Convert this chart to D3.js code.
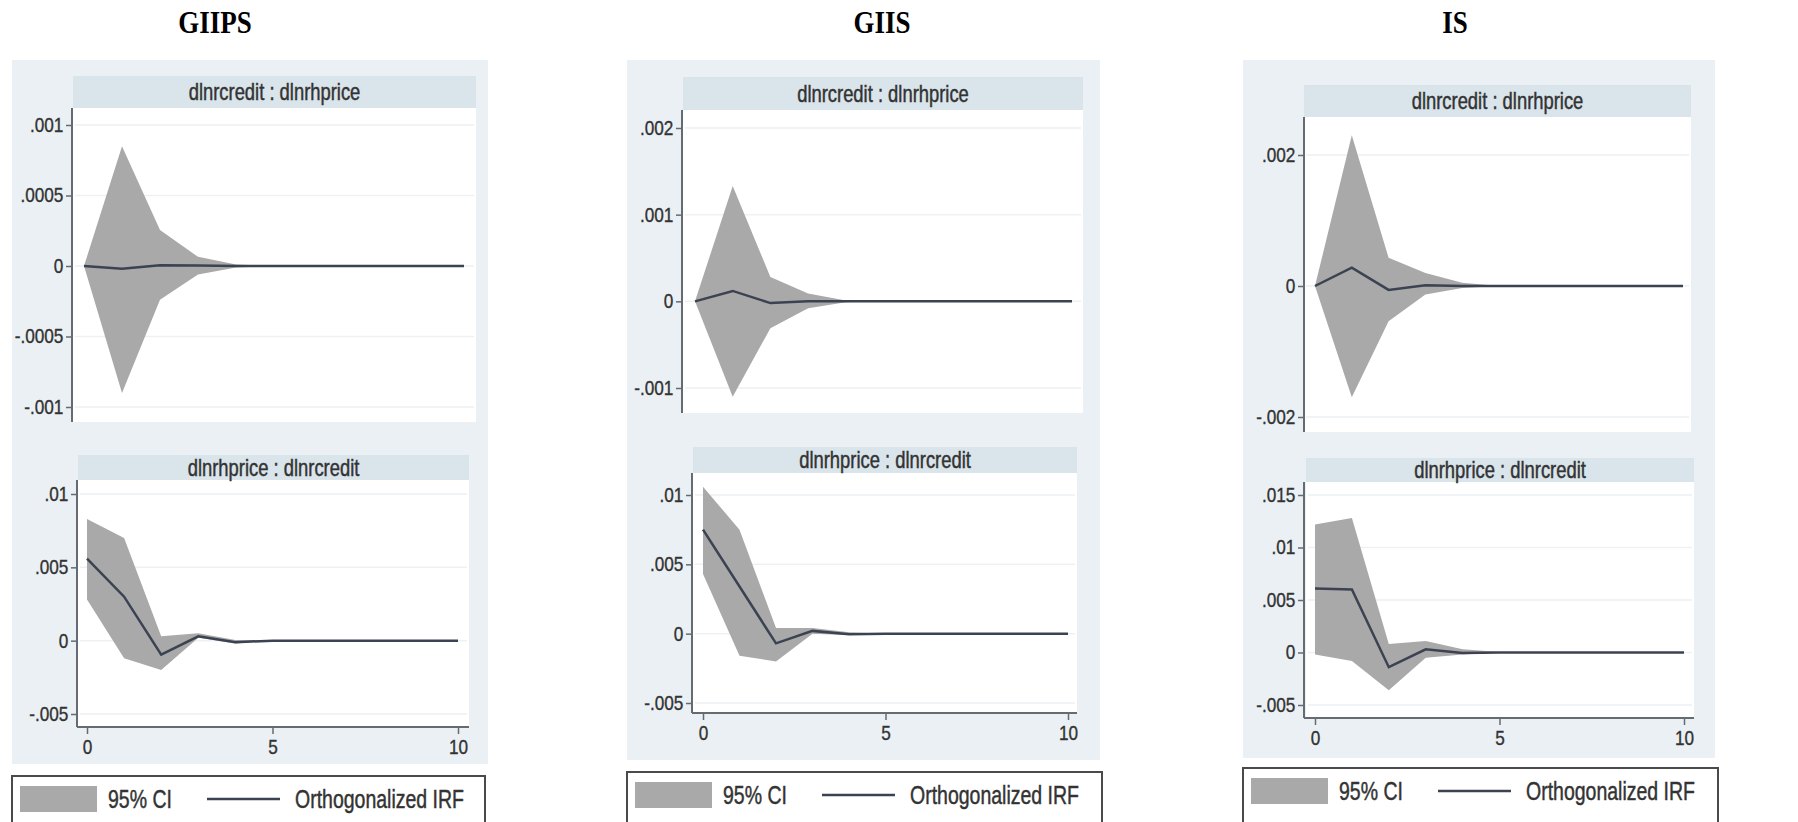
<!DOCTYPE html>
<html lang="en">
<head>
    <meta charset="UTF-8">
    <title>Orthogonalized IRF</title>
    <style>
        body { margin: 0; background: #fff; }
        svg { display: block; }
        .tick text { fill: #333; stroke: #333; stroke-width: 0.35; }
        .soft { stroke-width: 0.45; }
    </style>
</head>
<body>
    <svg width="1798" height="822"></svg>
    <script src="https://d3js.org/d3.v7.min.js"></script>
    <script>
        // steps on the x axis
        const steps = [0, 1, 2, 3, 4, 5, 6, 7, 8, 9, 10];
        const xTicks = [0, 5, 10];
        const groupTitles = ["GIIPS", "GIIS", "IS"];
        const stripTitles = ["dlnrcredit : dlnrhprice", "dlnrhprice : dlnrcredit"];
        const legendLabels = ["95% CI", "Orthogonalized IRF"];

        // GIIPS
        const giipsCreditHi  = [0, 0.00085, 0.000255, 0.000065, 0.00001, 0, 0, 0, 0, 0, 0];
        const giipsCreditLo  = [0, -0.0009, -0.00024, -0.00006, -0.00001, 0, 0, 0, 0, 0, 0];
        const giipsCreditIrf = [0, -0.00002, 0.000005, 0.000003, 0, 0, 0, 0, 0, 0, 0];
        const giipsPriceHi   = [0.0083, 0.0070, 0.0003, 0.0005, 0.00005, 0, 0, 0, 0, 0, 0];
        const giipsPriceLo   = [0.0028, -0.0012, -0.0020, 0.0002, -0.0002, 0, 0, 0, 0, 0, 0];
        const giipsPriceIrf  = [0.0056, 0.0030, -0.00095, 0.0003, -0.0001, 0, 0, 0, 0, 0, 0];
        const giipsTopTicks = [-0.001, -0.0005, 0, 0.0005, 0.001];
        const giipsBotTicks = [-0.005, 0, 0.005, 0.01];

        // GIIS
        const giisCreditHi  = [0, 0.00133, 0.00028, 0.00009, 0.00001, 0, 0, 0, 0, 0, 0];
        const giisCreditLo  = [0, -0.0011, -0.00031, -0.00008, -0.00001, 0, 0, 0, 0, 0, 0];
        const giisCreditIrf = [0, 0.00012, -0.00002, 0, 0, 0, 0, 0, 0, 0, 0];
        const giisPriceHi   = [0.0106, 0.0075, 0.0004, 0.0004, 0.0001, 0, 0, 0, 0, 0, 0];
        const giisPriceLo   = [0.0043, -0.0016, -0.0020, 0.0000, -0.0001, 0, 0, 0, 0, 0, 0];
        const giisPriceIrf  = [0.0075, 0.0034, -0.0007, 0.0002, -0.00005, 0, 0, 0, 0, 0, 0];
        const giisTopTicks = [-0.001, 0, 0.001, 0.002];
        const giisBotTicks = [-0.005, 0, 0.005, 0.01];

        // IS
        const isCreditHi  = [0, 0.0023, 0.00043, 0.0002, 0.00005, 0, 0, 0, 0, 0, 0];
        const isCreditLo  = [0, -0.0017, -0.00054, -0.00013, -0.00003, 0, 0, 0, 0, 0, 0];
        const isCreditIrf = [0, 0.00028, -0.00006, 0.00001, 0, 0, 0, 0, 0, 0, 0];
        const isPriceHi   = [0.0122, 0.0128, 0.0008, 0.0011, 0.0003, 0.00005, 0, 0, 0, 0, 0];
        const isPriceLo   = [-0.0002, -0.0008, -0.0036, -0.0005, -0.0002, 0, 0, 0, 0, 0, 0];
        const isPriceIrf  = [0.0061, 0.0060, -0.0014, 0.0003, -0.00005, 0, 0, 0, 0, 0, 0];
        const isTopTicks = [-0.002, 0, 0.002];
        const isBotTicks = [-0.005, 0, 0.005, 0.01, 0.015];

        const bgColor = "#eaf0f3";
        const stripColor = "#d9e4eb";
        const ciColor = "#a9a9a9";
        const irfColor = "#3b4252";
        const axisColor = "#656b72";

        const svg = d3.select("svg");

        // stata style labels: .001, -.0005, 0
        const fmt = v => v === 0 ? "0" : String(+v.toPrecision(6)).replace("0.", ".");

        // layout of each group (pixels)
        const groups = [
            {
                title: groupTitles[0], titleX: 215,
                bg: [12, 60, 488, 764], legend: [12, 776, 485, 830],
                panels: [
                    { strip: stripTitles[0], box: [73, 76, 476, 108, 422], axisX: 72,
                      yTicks: giipsTopTicks, yPix: [407, 125], xPix: [84, 464],
                      hi: giipsCreditHi, lo: giipsCreditLo, irf: giipsCreditIrf, showX: false },
                    { strip: stripTitles[1], box: [78, 455, 469, 480, 727], axisX: 77,
                      yTicks: giipsBotTicks, yPix: [714, 494], xPix: [87, 458],
                      hi: giipsPriceHi, lo: giipsPriceLo, irf: giipsPriceIrf, showX: true }
                ]
            },
            {
                title: groupTitles[1], titleX: 882,
                bg: [627, 60, 1100, 760], legend: [627, 772, 1102, 830],
                panels: [
                    { strip: stripTitles[0], box: [683, 77, 1083, 110, 413], axisX: 682,
                      yTicks: giisTopTicks, yPix: [388, 128], xPix: [695, 1072],
                      hi: giisCreditHi, lo: giisCreditLo, irf: giisCreditIrf, showX: false },
                    { strip: stripTitles[1], box: [693, 447, 1077, 473, 713], axisX: 692,
                      yTicks: giisBotTicks, yPix: [703, 495], xPix: [703, 1068],
                      hi: giisPriceHi, lo: giisPriceLo, irf: giisPriceIrf, showX: true }
                ]
            },
            {
                title: groupTitles[2], titleX: 1455,
                bg: [1243, 60, 1715, 758], legend: [1243, 768, 1718, 830],
                panels: [
                    { strip: stripTitles[0], box: [1304, 85, 1691, 117, 432], axisX: 1304,
                      yTicks: isTopTicks, yPix: [417, 155], xPix: [1315, 1683],
                      hi: isCreditHi, lo: isCreditLo, irf: isCreditIrf, showX: false },
                    { strip: stripTitles[1], box: [1306, 458, 1694, 482, 718], axisX: 1304,
                      yTicks: isBotTicks, yPix: [705, 495], xPix: [1315, 1684],
                      hi: isPriceHi, lo: isPriceLo, irf: isPriceIrf, showX: true }
                ]
            }
        ];

        // squeezed text, the picture's fonts are narrow
        function label(parent, x, y, text, opts) {
            const g = parent.append("g")
                .attr("transform", `translate(${x},${y}) scale(${opts.sx},1)`);
            const t = g.append("text")
                .attr("text-anchor", opts.anchor || "start")
                .attr("font-family", opts.family || "'Liberation Sans', Arial, sans-serif")
                .attr("font-size", opts.size)
                .attr("font-weight", opts.weight || "normal")
                .attr("fill", opts.fill || "#333")
                .text(text);
            if (opts.thick) t.attr("class", "soft").attr("stroke", opts.fill || "#333");
            return g;
        }

        function drawPanel(g, p) {
            const [x0, sy, x1, y0, y1] = p.box;
            const x = d3.scaleLinear().domain([0, 10]).range(p.xPix);
            const y = d3.scaleLinear()
                .domain([p.yTicks[0], p.yTicks[p.yTicks.length - 1]])
                .range(p.yPix);

            // strip and plot region
            g.append("rect").attr("x", x0).attr("y", sy).attr("width", x1 - x0).attr("height", y0 - sy)
                .attr("fill", stripColor);
            g.append("rect").attr("x", x0).attr("y", y0).attr("width", x1 - x0).attr("height", y1 - y0)
                .attr("fill", "#fff");
            label(g, (x0 + x1) / 2, sy + (y0 - sy) / 2 + 8, p.strip,
                { size: 23, sx: 0.8, anchor: "middle", fill: "#333", thick: true });

            // grid lines
            g.selectAll(".grid")
                .data(p.yTicks)
                .enter()
                .append("line")
                .attr("x1", x0 + 2).attr("x2", x1 - 2)
                .attr("y1", d => y(d)).attr("y2", d => y(d))
                .attr("stroke", "#edf1f4")
                .attr("stroke-width", 1.5);

            // CI band
            const area = d3.area()
                .x((d, i) => x(steps[i]))
                .y0((d, i) => y(p.lo[i]))
                .y1((d, i) => y(p.hi[i]));
            g.append("path").datum(steps).attr("d", area).attr("fill", ciColor);

            // IRF line
            const line = d3.line()
                .x((d, i) => x(steps[i]))
                .y(d => y(d));
            g.append("path").datum(p.irf).attr("d", line)
                .attr("fill", "none").attr("stroke", irfColor).attr("stroke-width", 2.5);

            // y axis
            const yAxis = g.append("g")
                .attr("transform", `translate(${p.axisX},0)`)
                .call(d3.axisLeft(y).tickValues(p.yTicks).tickFormat(fmt).tickSize(6).tickPadding(4));
            yAxis.select(".domain").remove();
            yAxis.selectAll(".tick line").attr("stroke", axisColor).attr("stroke-width", 1.5);
            yAxis.selectAll(".tick text")
                .attr("font-family", "'Liberation Sans', Arial, sans-serif")
                .attr("font-size", 20)
                .attr("transform", "scale(0.86,1)");
            yAxis.append("line")
                .attr("y1", y0).attr("y2", y1)
                .attr("stroke", axisColor).attr("stroke-width", 2);

            if (p.showX) {
                const xAxis = g.append("g")
                    .attr("transform", `translate(0,${y1})`)
                    .call(d3.axisBottom(x).tickValues(xTicks).tickSize(7).tickPadding(6));
                xAxis.select(".domain").remove();
                xAxis.selectAll(".tick line").attr("stroke", axisColor).attr("stroke-width", 1.5);
                xAxis.selectAll(".tick text")
                    .attr("font-family", "'Liberation Sans', Arial, sans-serif")
                    .attr("font-size", 20)
                    .attr("transform", "scale(0.86,1)");
                xAxis.append("line")
                    .attr("x1", p.axisX).attr("x2", x1)
                    .attr("stroke", axisColor).attr("stroke-width", 2);
            }
        }

        function drawLegend(g, box) {
            const [lx0, ly0, lx1, ly1] = box;
            g.append("rect")
                .attr("x", lx0).attr("y", ly0)
                .attr("width", lx1 - lx0).attr("height", ly1 - ly0)
                .attr("fill", "#fff")
                .attr("stroke", "#4a4a4a")
                .attr("stroke-width", 2);
            const cy = ly0 + 23;
            g.append("rect")
                .attr("x", lx0 + 8).attr("y", cy - 13)
                .attr("width", 77).attr("height", 26)
                .attr("fill", ciColor);
            label(g, lx0 + 96, cy + 9, legendLabels[0], { size: 25, sx: 0.78, fill: "#333", thick: true });
            g.append("line")
                .attr("x1", lx0 + 195).attr("x2", lx0 + 268)
                .attr("y1", cy).attr("y2", cy)
                .attr("stroke", irfColor).attr("stroke-width", 2.5);
            label(g, lx0 + 283, cy + 9, legendLabels[1], { size: 25, sx: 0.78, fill: "#333", thick: true });
        }

        groups.forEach(grp => {
            const g = svg.append("g");
            label(g, grp.titleX, 33, grp.title, {
                size: 31, sx: 0.87, anchor: "middle", weight: "bold",
                family: "'Liberation Serif', 'Times New Roman', serif", fill: "#000"
            });
            g.append("rect")
                .attr("x", grp.bg[0]).attr("y", grp.bg[1])
                .attr("width", grp.bg[2] - grp.bg[0]).attr("height", grp.bg[3] - grp.bg[1])
                .attr("fill", bgColor);
            grp.panels.forEach(p => drawPanel(g, p));
            drawLegend(g, grp.legend);
        });
    </script>
</body>
</html>
